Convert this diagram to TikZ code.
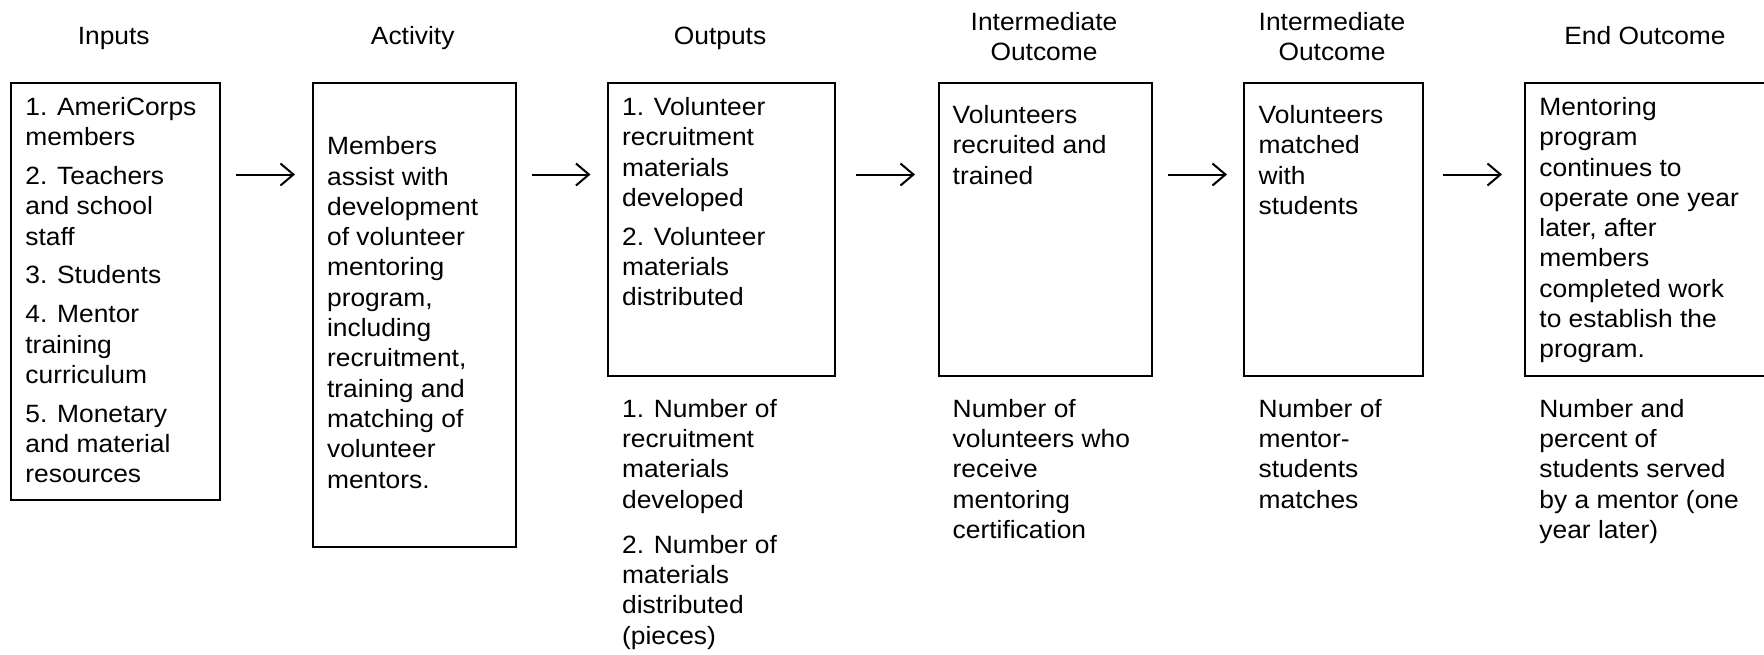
\documentclass[tikz,border=0pt]{standalone}
\usepackage{fontspec}
\setmainfont{Liberation Sans}[FakeStretch=1.055]
\usetikzlibrary{arrows.meta}
\newcommand{\mystrut}{\rule{0pt}{10pt}}
\begin{document}
\begin{tikzpicture}[x=0.5pt,y=-0.5pt,
  box/.style={draw, line width=0.9pt, anchor=north west, inner sep=0pt},
  txt/.style={anchor=north west, align=left, inner sep=0pt, font=\fontsize{12.5}{15.15}\selectfont},
  hdr/.style={anchor=north, align=center, inner sep=0pt, font=\fontsize{12.5}{15}\selectfont},
  flow/.style={-{Straight Barb[length=6.5pt,width=11pt]}, line width=1pt}]
\useasboundingbox (0,0) rectangle (1764,654);
% headers (top = first baseline - 20)
\node[hdr] (h1) at (113.7,24.3) {\mystrut Inputs};
\node[hdr] (h2) at (412.7,24.3) {\mystrut Activity};
\node[hdr] (h3) at (720,24.3) {\mystrut Outputs};
\node[hdr] (h4) at (1044,9.6) {\mystrut Intermediate\\Outcome};
\node[hdr] (h5) at (1332,9.6) {\mystrut Intermediate\\Outcome};
\node[hdr] (h6) at (1645,24.3) {\mystrut End Outcome};
% boxes
\node[box, minimum width=104.65pt, minimum height=208.5pt] (b1) at (9.7,81.7) {};
\node[box, minimum width=101.35pt, minimum height=232.3pt] (b2) at (312.3,81.7) {};
\node[box, minimum width=113.8pt, minimum height=146.65pt] (b3) at (606.7,81.7) {};
\node[box, minimum width=106.65pt, minimum height=146.65pt] (b4) at (937.7,81.7) {};
\node[box, minimum width=89.2pt, minimum height=146.65pt] (b5) at (1243.3,81.7) {};
\node[box, minimum width=140pt, minimum height=146.65pt] (b6) at (1524,81.7) {};
% box texts
\node[txt] (t1) at (25,95) {\mystrut 1. AmeriCorps\\members\\[4.25pt]2. Teachers\\and school\\staff\\[4.25pt]3. Students\\[4.25pt]4. Mentor\\training\\curriculum\\[4.25pt]5. Monetary\\and material\\resources};
\node[txt] (t2) at (326.7,134.3) {\mystrut Members\\assist with\\development\\of volunteer\\mentoring\\program,\\including\\recruitment,\\training and\\matching of\\volunteer\\mentors.};
\node[txt] (t3) at (621.7,95) {\mystrut 1. Volunteer\\recruitment\\materials\\developed\\[4.25pt]2. Volunteer\\materials\\distributed};
\node[txt] (t4) at (952.3,103.2) {\mystrut Volunteers\\recruited and\\trained};
\node[txt] (t5) at (1258.3,103.2) {\mystrut Volunteers\\matched\\with\\students};
\node[txt] (t6) at (1539,95) {\mystrut Mentoring\\program\\continues to\\operate one year\\later, after\\members\\completed work\\to establish the\\program.};
% indicators below
\node[txt] (u3) at (621.7,396.7) {\mystrut 1. Number of\\recruitment\\materials\\developed\\[7.4pt]2. Number of\\materials\\distributed\\(pieces)};
\node[txt] (u4) at (952.3,396.7) {\mystrut Number of\\volunteers who\\receive\\mentoring\\certification};
\node[txt] (u5) at (1258.3,396.7) {\mystrut Number of\\mentor-\\students\\matches};
\node[txt] (u6) at (1539,396.7) {\mystrut Number and\\percent of\\students served\\by a mentor (one\\year later)};
% arrows
\coordinate (a1s) at (236,174.5); \coordinate (a1e) at (295,174.5);
\coordinate (a2s) at (532,174.5); \coordinate (a2e) at (590.5,174.5);
\coordinate (a3s) at (856,174.5); \coordinate (a3e) at (915,174.5);
\coordinate (a4s) at (1168,174.5); \coordinate (a4e) at (1227,174.5);
\coordinate (a5s) at (1443,174.5); \coordinate (a5e) at (1502,174.5);
\draw[flow] (a1s) -- (a1e);
\draw[flow] (a2s) -- (a2e);
\draw[flow] (a3s) -- (a3e);
\draw[flow] (a4s) -- (a4e);
\draw[flow] (a5s) -- (a5e);
\end{tikzpicture}
\end{document}
